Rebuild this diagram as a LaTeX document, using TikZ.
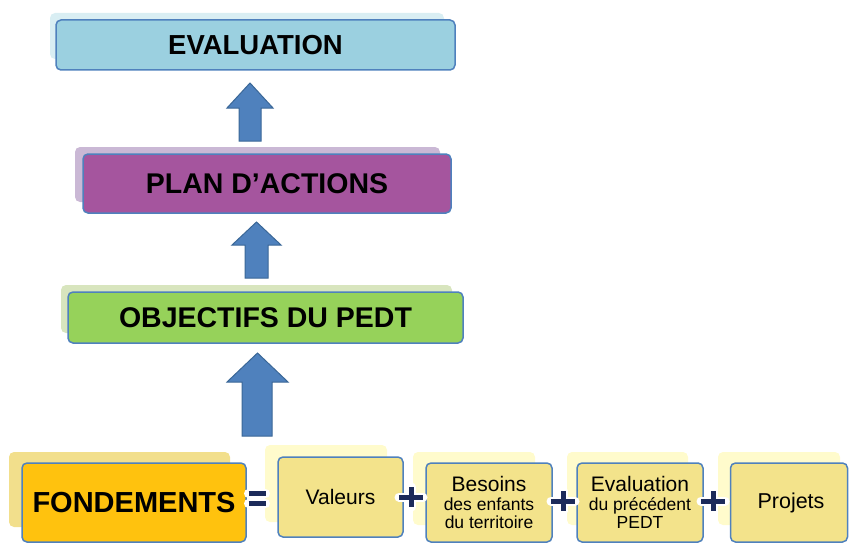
\documentclass[tikz,border=0pt]{standalone}
\usepackage{fontspec}
\setmainfont{Liberation Sans}
\definecolor{bordc}{HTML}{4F81BD}
\definecolor{arrfill}{HTML}{4F81BD}
\definecolor{arredge}{HTML}{3A6797}
\definecolor{evalfill}{HTML}{9BD0E0}
\definecolor{evalsh}{HTML}{D9EEF3}
\definecolor{planfill}{HTML}{A5559E}
\definecolor{plansh}{HTML}{CAB8D5}
\definecolor{objfill}{HTML}{96D25A}
\definecolor{objsh}{HTML}{D8E5BE}
\definecolor{fondfill}{HTML}{FFC20E}
\definecolor{fondsh}{HTML}{F2DF8C}
\definecolor{smallfill}{HTML}{F3E38B}
\definecolor{smallsh}{HTML}{FFFBCC}
\definecolor{navy}{HTML}{1C2B5A}
\begin{document}
\begin{tikzpicture}[x=1pt,y=-1pt,
  box/.style={draw=bordc, line width=1.5pt, rounded corners=5pt, inner sep=0pt, align=center, text=black},
  shad/.style={rounded corners=5pt},
  title/.style={font=\bfseries\fontsize{28.5}{30}\selectfont},
  small/.style={box, fill=smallfill, font=\fontsize{17.5}{18.5}\selectfont},
  blockarr/.style={fill=arrfill, draw=arredge, line width=1pt, line join=miter},
  signglow/.style={white, line width=9pt, line cap=round},
  signbar/.style={navy, line width=5pt}
]
\useasboundingbox (0,0) rectangle (849,543);

% shadows
\fill[shad, evalsh] (50,13) rectangle (444,59);
\fill[shad, plansh] (75,147) rectangle (440,202);
\fill[shad, objsh] (61,285) rectangle (452,333);
\fill[shad, fondsh] (9,452) rectangle (230,527);
\fill[shad, smallsh] (265,445) rectangle (387,522);
\fill[shad, smallsh] (413,452) rectangle (535,525);
\fill[shad, smallsh] (567,452) rectangle (688,525);
\fill[shad, smallsh] (718,452) rectangle (840,525);

% main boxes
\node[box, title, fill=evalfill, minimum width=399pt, minimum height=50pt, font=\bfseries\fontsize{27.5}{30}\selectfont] (eval) at (255.5,45) {EVALUATION};
\node[box, title, fill=planfill, minimum width=368pt, minimum height=59pt] (plan) at (267,183.5) {PLAN D’ACTIONS};
\node[box, title, fill=objfill, minimum width=395pt, minimum height=51pt] (obj) at (265.5,317.5) {OBJECTIFS DU PEDT};
\node[box, fill=fondfill, minimum width=224pt, minimum height=79pt, font=\bfseries\fontsize{29}{30}\selectfont] (fond) at (134,502.5) {FONDEMENTS};

% small boxes
\node[small, minimum width=125pt, minimum height=80pt, font=\fontsize{21}{24}\selectfont] (val) at (340.5,497) {Valeurs};
\node[small, minimum width=126pt, minimum height=79pt] (bes) at (489,502.5) {{\fontsize{21}{18.5}\selectfont Besoins}\\des enfants\\du territoire};
\node[small, minimum width=126pt, minimum height=79pt] (evp) at (640,502.5) {{\fontsize{21}{18.5}\selectfont Evaluation}\\du précédent\\PEDT};
\node[small, minimum width=117pt, minimum height=79pt, font=\fontsize{21.5}{24}\selectfont] (proj) at (789,502.5) {\hspace*{4pt}Projets};

% block arrows
\draw[blockarr] (239,141) -- (239,108) -- (227,108) -- (250,83) -- (273,108) -- (261,108) -- (261,141) -- cycle;
\draw[blockarr] (245,278) -- (245,245) -- (232,245) -- (256.5,222) -- (281,245) -- (268,245) -- (268,278) -- cycle;
\draw[blockarr] (242,436) -- (242,382) -- (227,382) -- (257.5,353) -- (288,382) -- (272,382) -- (272,436) -- cycle;

% equal sign
\draw[signglow] (248.5,493.5) -- (265.5,493.5) (248.5,503.5) -- (265.5,503.5);
\draw[signbar] (248.5,493.5) -- (265.5,493.5) (248.5,503.5) -- (265.5,503.5);

% plus signs
\foreach \cx/\cy in {411/497, 563/501, 713/501}{
  \draw[signglow] ({\cx-12},\cy) -- ({\cx+12},\cy) (\cx,{\cy-10}) -- (\cx,{\cy+10});
}
\foreach \cx/\cy in {411/497, 563/501, 713/501}{
  \draw[signbar] ({\cx-12},\cy) -- ({\cx+12},\cy) (\cx,{\cy-10}) -- (\cx,{\cy+10});
}
\end{tikzpicture}
\end{document}
